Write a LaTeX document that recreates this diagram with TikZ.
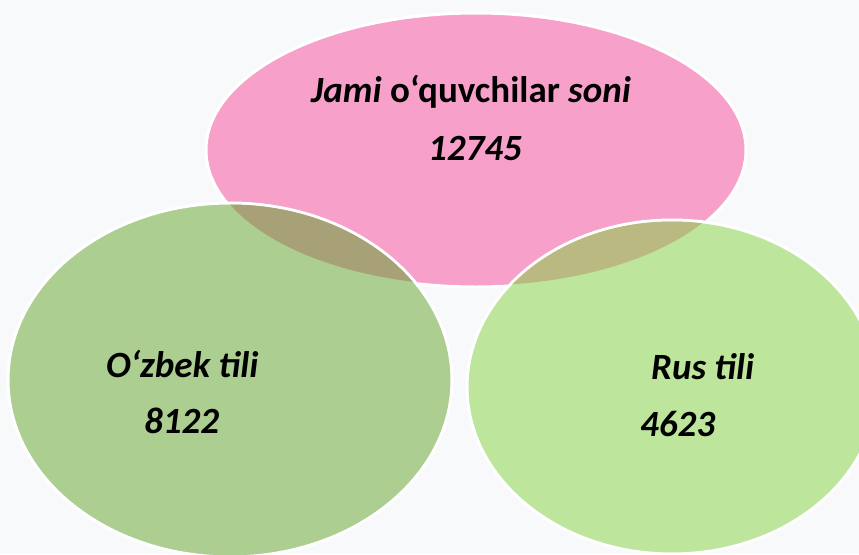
\documentclass[tikz,border=0pt]{standalone}
\usepackage{fontspec}
\setmainfont{Carlito}
\definecolor{bgc}{HTML}{F8F9FB}
\definecolor{pinkc}{HTML}{F7A0C9}
\definecolor{lgreen}{HTML}{ACCE91}
\definecolor{rgreen}{HTML}{BDE59C}
\definecolor{lov}{HTML}{A8A076}
\definecolor{rov}{HTML}{BBB982}
\begin{document}
\begin{tikzpicture}[x=1pt,y=-1pt,
  venn/.style={draw=white, line width=3pt},
  lbl/.style={font=\bfseries\fontsize{37}{44}\selectfont, inner sep=0pt, anchor=base west}]
\useasboundingbox (0,0) rectangle (859,554);
\clip (0,0) rectangle (859,554);
\fill[bgc] (0,0) rectangle (859,554);
\path[venn, fill=pinkc] (476,150) ellipse [x radius=270, y radius=137];
\path[venn, fill=lgreen] (230,380) ellipse [x radius=222, y radius=177];
\path[venn, fill=rgreen] (672,387) ellipse [x radius=205, y radius=167];
\begin{scope}
  \clip (476,150) ellipse [x radius=268.5, y radius=135.5];
  \fill[lov] (230,380) ellipse [x radius=220.5, y radius=175.5];
  \fill[rov] (672,387) ellipse [x radius=203.5, y radius=165.5];
\end{scope}
\node[lbl] (t1) at (311,102) {\textit{Jami} o‘quvchilar \textit{soni}};
\node[lbl] (n1) at (428,160) {\itshape 12745};
\node[lbl] (t2) at (106,377) {\itshape O‘zbek tili};
\node[lbl] (n2) at (144,433) {\itshape 8122};
\node[lbl] (t3) at (651,379) {\itshape Rus tili};
\node[lbl] (n3) at (640,436) {\itshape 4623};
\end{tikzpicture}
\end{document}
